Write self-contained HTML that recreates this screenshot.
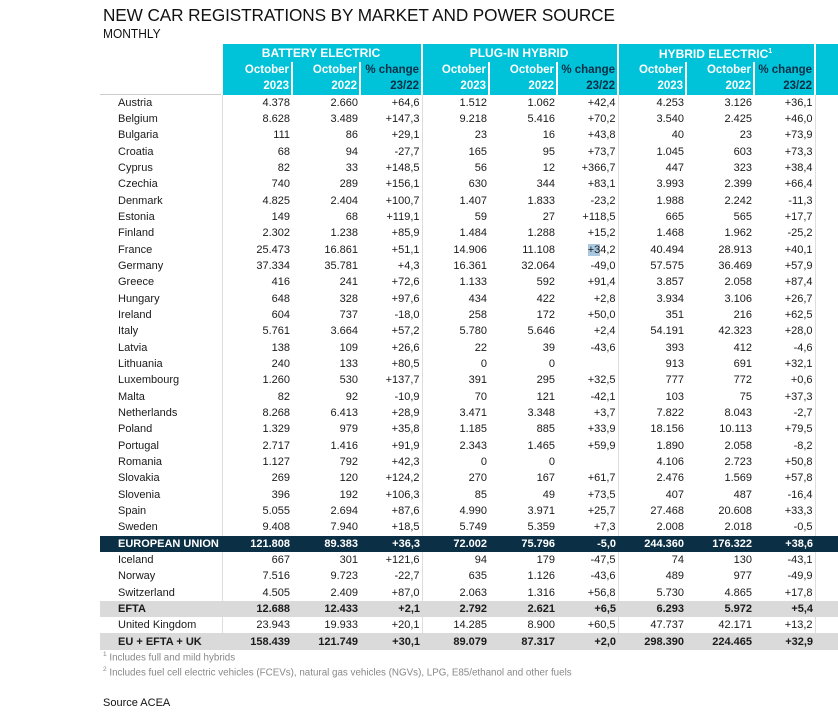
<!DOCTYPE html>
<html><head><meta charset="utf-8"><style>
*{margin:0;padding:0;box-sizing:border-box}
body{width:838px;height:720px;background:#fff;font-family:"Liberation Sans",Arial,sans-serif;color:#1a1a1a;position:relative;overflow:hidden}
.t1{position:absolute;left:103px;top:5px;font-size:17.2px;color:#111;letter-spacing:-0.1px}
.t2{position:absolute;left:103px;top:26px;font-size:13px;color:#111;transform:scaleX(0.92);transform-origin:left}
table{position:absolute;left:100px;top:44px;width:760px;border-collapse:collapse;table-layout:fixed;font-size:11px}
td{height:16.33px;padding:0 2px 0 0;text-align:right;white-space:nowrap;overflow:hidden;line-height:14px}
td.n{text-align:left;padding-left:18px}
tr.h td{background:#00c2d8;color:#fff;font-weight:bold;border-left:2px solid #fff;font-size:11.5px}
tr.h td.e{background:#fff;border:none}
tr.h td.d{color:#0d2f45}
tr.g td{height:18px;text-align:center;font-size:12px}
.b{border-left:1px solid #ddd}
tr.eu td{background:#0b2f45;color:#fff;font-weight:bold}
tr.gr td{background:#dadada;font-weight:bold}
.fn{position:absolute;left:103px;font-size:9.8px;color:#888}
.fn sup{font-size:6.5px}
.src{position:absolute;left:103px;top:697px;font-size:11px;color:#111}
</style></head><body>
<div class="t1">NEW CAR REGISTRATIONS BY MARKET AND POWER SOURCE</div>
<div class="t2">MONTHLY</div>
<table>
<colgroup><col style="width:122px"><col style="width:70px"><col style="width:68px"><col style="width:62px"><col style="width:67px"><col style="width:68px"><col style="width:61px"><col style="width:68px"><col style="width:68px"><col style="width:61px"><col style="width:45px"></colgroup>
<tr class="h g"><td class="e"></td><td colspan="3">BATTERY ELECTRIC</td><td colspan="3">PLUG-IN HYBRID</td><td colspan="3">HYBRID ELECTRIC<sup style="font-size:7px">1</sup></td><td></td></tr>
<tr class="h"><td class="e"></td><td>October</td><td>October</td><td class="d">% change</td><td>October</td><td>October</td><td class="d">% change</td><td>October</td><td>October</td><td class="d">% change</td><td></td></tr>
<tr class="h"><td class="e" style="border-bottom:1px solid #ccc"></td><td>2023</td><td>2022</td><td class="d">23/22</td><td>2023</td><td>2022</td><td class="d">23/22</td><td>2023</td><td>2022</td><td class="d">23/22</td><td></td></tr>
<tr><td class="n">Austria</td><td class="b">4.378</td><td>2.660</td><td>+64,6</td><td class="b">1.512</td><td>1.062</td><td>+42,4</td><td class="b">4.253</td><td>3.126</td><td>+36,1</td><td class="b"></td></tr>
<tr><td class="n">Belgium</td><td class="b">8.628</td><td>3.489</td><td>+147,3</td><td class="b">9.218</td><td>5.416</td><td>+70,2</td><td class="b">3.540</td><td>2.425</td><td>+46,0</td><td class="b"></td></tr>
<tr><td class="n">Bulgaria</td><td class="b">111</td><td>86</td><td>+29,1</td><td class="b">23</td><td>16</td><td>+43,8</td><td class="b">40</td><td>23</td><td>+73,9</td><td class="b"></td></tr>
<tr><td class="n">Croatia</td><td class="b">68</td><td>94</td><td>-27,7</td><td class="b">165</td><td>95</td><td>+73,7</td><td class="b">1.045</td><td>603</td><td>+73,3</td><td class="b"></td></tr>
<tr><td class="n">Cyprus</td><td class="b">82</td><td>33</td><td>+148,5</td><td class="b">56</td><td>12</td><td>+366,7</td><td class="b">447</td><td>323</td><td>+38,4</td><td class="b"></td></tr>
<tr><td class="n">Czechia</td><td class="b">740</td><td>289</td><td>+156,1</td><td class="b">630</td><td>344</td><td>+83,1</td><td class="b">3.993</td><td>2.399</td><td>+66,4</td><td class="b"></td></tr>
<tr><td class="n">Denmark</td><td class="b">4.825</td><td>2.404</td><td>+100,7</td><td class="b">1.407</td><td>1.833</td><td>-23,2</td><td class="b">1.988</td><td>2.242</td><td>-11,3</td><td class="b"></td></tr>
<tr><td class="n">Estonia</td><td class="b">149</td><td>68</td><td>+119,1</td><td class="b">59</td><td>27</td><td>+118,5</td><td class="b">665</td><td>565</td><td>+17,7</td><td class="b"></td></tr>
<tr><td class="n">Finland</td><td class="b">2.302</td><td>1.238</td><td>+85,9</td><td class="b">1.484</td><td>1.288</td><td>+15,2</td><td class="b">1.468</td><td>1.962</td><td>-25,2</td><td class="b"></td></tr>
<tr><td class="n">France</td><td class="b">25.473</td><td>16.861</td><td>+51,1</td><td class="b">14.906</td><td>11.108</td><td><span style="background:#a9c8e0">+3</span>4,2</td><td class="b">40.494</td><td>28.913</td><td>+40,1</td><td class="b"></td></tr>
<tr><td class="n">Germany</td><td class="b">37.334</td><td>35.781</td><td>+4,3</td><td class="b">16.361</td><td>32.064</td><td>-49,0</td><td class="b">57.575</td><td>36.469</td><td>+57,9</td><td class="b"></td></tr>
<tr><td class="n">Greece</td><td class="b">416</td><td>241</td><td>+72,6</td><td class="b">1.133</td><td>592</td><td>+91,4</td><td class="b">3.857</td><td>2.058</td><td>+87,4</td><td class="b"></td></tr>
<tr><td class="n">Hungary</td><td class="b">648</td><td>328</td><td>+97,6</td><td class="b">434</td><td>422</td><td>+2,8</td><td class="b">3.934</td><td>3.106</td><td>+26,7</td><td class="b"></td></tr>
<tr><td class="n">Ireland</td><td class="b">604</td><td>737</td><td>-18,0</td><td class="b">258</td><td>172</td><td>+50,0</td><td class="b">351</td><td>216</td><td>+62,5</td><td class="b"></td></tr>
<tr><td class="n">Italy</td><td class="b">5.761</td><td>3.664</td><td>+57,2</td><td class="b">5.780</td><td>5.646</td><td>+2,4</td><td class="b">54.191</td><td>42.323</td><td>+28,0</td><td class="b"></td></tr>
<tr><td class="n">Latvia</td><td class="b">138</td><td>109</td><td>+26,6</td><td class="b">22</td><td>39</td><td>-43,6</td><td class="b">393</td><td>412</td><td>-4,6</td><td class="b"></td></tr>
<tr><td class="n">Lithuania</td><td class="b">240</td><td>133</td><td>+80,5</td><td class="b">0</td><td>0</td><td></td><td class="b">913</td><td>691</td><td>+32,1</td><td class="b"></td></tr>
<tr><td class="n">Luxembourg</td><td class="b">1.260</td><td>530</td><td>+137,7</td><td class="b">391</td><td>295</td><td>+32,5</td><td class="b">777</td><td>772</td><td>+0,6</td><td class="b"></td></tr>
<tr><td class="n">Malta</td><td class="b">82</td><td>92</td><td>-10,9</td><td class="b">70</td><td>121</td><td>-42,1</td><td class="b">103</td><td>75</td><td>+37,3</td><td class="b"></td></tr>
<tr><td class="n">Netherlands</td><td class="b">8.268</td><td>6.413</td><td>+28,9</td><td class="b">3.471</td><td>3.348</td><td>+3,7</td><td class="b">7.822</td><td>8.043</td><td>-2,7</td><td class="b"></td></tr>
<tr><td class="n">Poland</td><td class="b">1.329</td><td>979</td><td>+35,8</td><td class="b">1.185</td><td>885</td><td>+33,9</td><td class="b">18.156</td><td>10.113</td><td>+79,5</td><td class="b"></td></tr>
<tr><td class="n">Portugal</td><td class="b">2.717</td><td>1.416</td><td>+91,9</td><td class="b">2.343</td><td>1.465</td><td>+59,9</td><td class="b">1.890</td><td>2.058</td><td>-8,2</td><td class="b"></td></tr>
<tr><td class="n">Romania</td><td class="b">1.127</td><td>792</td><td>+42,3</td><td class="b">0</td><td>0</td><td></td><td class="b">4.106</td><td>2.723</td><td>+50,8</td><td class="b"></td></tr>
<tr><td class="n">Slovakia</td><td class="b">269</td><td>120</td><td>+124,2</td><td class="b">270</td><td>167</td><td>+61,7</td><td class="b">2.476</td><td>1.569</td><td>+57,8</td><td class="b"></td></tr>
<tr><td class="n">Slovenia</td><td class="b">396</td><td>192</td><td>+106,3</td><td class="b">85</td><td>49</td><td>+73,5</td><td class="b">407</td><td>487</td><td>-16,4</td><td class="b"></td></tr>
<tr><td class="n">Spain</td><td class="b">5.055</td><td>2.694</td><td>+87,6</td><td class="b">4.990</td><td>3.971</td><td>+25,7</td><td class="b">27.468</td><td>20.608</td><td>+33,3</td><td class="b"></td></tr>
<tr><td class="n">Sweden</td><td class="b">9.408</td><td>7.940</td><td>+18,5</td><td class="b">5.749</td><td>5.359</td><td>+7,3</td><td class="b">2.008</td><td>2.018</td><td>-0,5</td><td class="b"></td></tr>
<tr class="eu"><td class="n">EUROPEAN UNION</td><td>121.808</td><td>89.383</td><td>+36,3</td><td>72.002</td><td>75.796</td><td>-5,0</td><td>244.360</td><td>176.322</td><td>+38,6</td><td></td></tr>
<tr><td class="n">Iceland</td><td class="b">667</td><td>301</td><td>+121,6</td><td class="b">94</td><td>179</td><td>-47,5</td><td class="b">74</td><td>130</td><td>-43,1</td><td class="b"></td></tr>
<tr><td class="n">Norway</td><td class="b">7.516</td><td>9.723</td><td>-22,7</td><td class="b">635</td><td>1.126</td><td>-43,6</td><td class="b">489</td><td>977</td><td>-49,9</td><td class="b"></td></tr>
<tr><td class="n">Switzerland</td><td class="b">4.505</td><td>2.409</td><td>+87,0</td><td class="b">2.063</td><td>1.316</td><td>+56,8</td><td class="b">5.730</td><td>4.865</td><td>+17,8</td><td class="b"></td></tr>
<tr class="gr"><td class="n">EFTA</td><td>12.688</td><td>12.433</td><td>+2,1</td><td>2.792</td><td>2.621</td><td>+6,5</td><td>6.293</td><td>5.972</td><td>+5,4</td><td></td></tr>
<tr><td class="n">United Kingdom</td><td class="b">23.943</td><td>19.933</td><td>+20,1</td><td class="b">14.285</td><td>8.900</td><td>+60,5</td><td class="b">47.737</td><td>42.171</td><td>+13,2</td><td class="b"></td></tr>
<tr class="gr"><td class="n">EU + EFTA + UK</td><td>158.439</td><td>121.749</td><td>+30,1</td><td>89.079</td><td>87.317</td><td>+2,0</td><td>298.390</td><td>224.465</td><td>+32,9</td><td></td></tr>
</table>
<div class="fn" style="top:651px"><sup>1</sup> Includes full and mild hybrids</div>
<div class="fn" style="top:666px"><sup>2</sup> Includes fuel cell electric vehicles (FCEVs), natural gas vehicles (NGVs), LPG, E85/ethanol and other fuels</div>
<div class="src">Source ACEA</div>
</body></html>
